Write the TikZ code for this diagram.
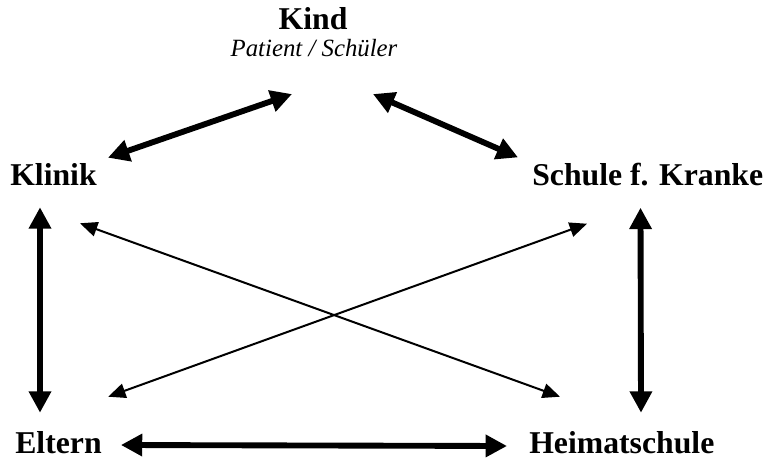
\documentclass[tikz,border=0pt]{standalone}
\usepackage{fontspec}
\setmainfont{Liberation Serif}
\usetikzlibrary{arrows.meta}
\begin{document}
\begin{tikzpicture}[x=7.5pt,y=-7.5pt,line join=round,
		lbl/.style={font=\bfseries\fontsize{23.8}{28}\selectfont,inner sep=0pt},
		sub/.style={font=\itshape\fontsize{18.6}{22}\selectfont,inner sep=0pt},
		heavy/.style={line width=4.4pt,{Triangle[length=16pt,width=16pt]}-{Triangle[length=16pt,width=16pt]}},
		light/.style={line width=1.5pt,{Triangle[length=13pt,width=11pt]}-{Triangle[length=13pt,width=11pt]}}]
	\useasboundingbox (0,0) rectangle (76.3,46.3);
	\node[lbl,anchor=base] (Kind) at (31.3,3.0) {Kind};
	\node[sub,anchor=base] (Patient) at (31.4,5.7) {Patient / Schüler};
	\node[lbl,anchor=base west] (Klinik) at (1.0,18.6) {Klinik};
	\node[lbl,anchor=base west] (Schule) at (53.2,18.6) {Schule f. Kranke};
	\node[lbl,anchor=base west] (Eltern) at (1.5,45.3) {Eltern};
	\node[lbl,anchor=base west] (Heimat) at (52.9,45.3) {Heimatschule};
	\draw[heavy] ([shift={(1.1,-0.6)}]Klinik.north east) -- ([shift={(-2.2,3.65)}]Patient.south);
	\draw[heavy] ([shift={(5.9,3.65)}]Patient.south) -- ([shift={(-1.4,-0.6)}]Schule.north west);
	\draw[heavy] ([shift={(3.0,2.1)}]Klinik.south west) -- ([shift={(2.5,-1.8)}]Eltern.north west);
	\draw[heavy] ([shift={(10.85,2.1)}]Schule.south west) -- ([shift={(11.2,-1.8)}]Heimat.north west);
	\draw[heavy] ([shift={(1.9,-0.8)}]Eltern.base east) -- ([shift={(-2.2,-0.7)}]Heimat.base west);
	\draw[light] ([shift={(7.0,3.7)}]Klinik.south west) -- ([shift={(3.1,-3.4)}]Heimat.north west);
	\draw[light] ([shift={(5.5,3.7)}]Schule.south west) -- ([shift={(0.63,-3.4)}]Eltern.north east);
\end{tikzpicture}
\end{document}
